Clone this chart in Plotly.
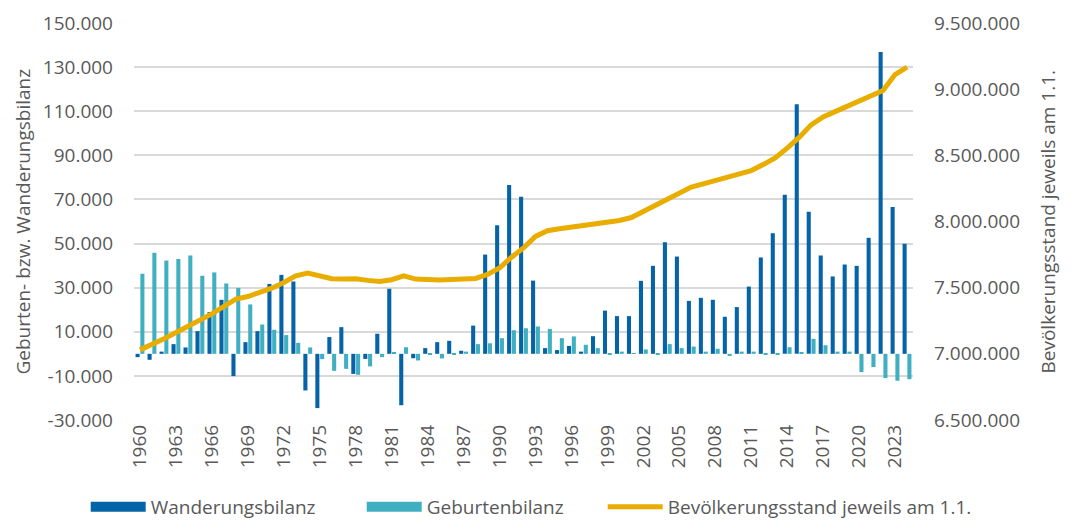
import plotly.graph_objects as go

years = list(range(1960, 2025))

wanderung_k = [-1.5, -2.7, 1.0, 4.4, 2.9, 10.3, 18.9, 24.5, -10.1, 5.3,
               10.3, 31.7, 35.8, 32.8, -16.6, -24.6, 7.6, 12.1, -9.1, -2.3,
               9.1, 29.5, -23.3, -2.0, 2.6, 5.3, 5.9, 1.4, 12.8, 45.0,
               58.3, 76.6, 71.2, 33.2, 2.6, 1.7, 3.6, 1.0, 8.0, 19.6,
               17.1, 17.1, 33.1, 39.9, 50.6, 44.1, 24.0, 25.4, 24.5, 16.8,
               21.2, 30.5, 43.7, 54.7, 72.1, 113.2, 64.4, 44.6, 35.1, 40.5,
               39.9, 52.6, 136.8, 66.6, 49.9]

geburten_k = [36.3, 45.8, 42.3, 43.0, 44.6, 35.4, 36.9, 31.9, 29.9, 22.4,
              13.3, 10.9, 8.5, 5.0, 2.9, -2.4, -7.7, -6.8, -9.5, -5.7,
              -1.5, 0.8, 3.0, -3.0, -0.3, -2.1, -0.2, 1.0, 4.4, 4.8,
              7.1, 10.7, 11.6, 12.4, 11.3, 7.1, 7.9, 4.1, 2.6, -0.2,
              1.0, 0.2, 2.0, -0.2, 4.4, 2.6, 3.3, 1.0, 2.3, -1.0,
              1.0, 1.0, -0.2, -0.3, 3.0, 0.8, 6.8, 3.9, 1.0, 1.0,
              -8.3, -6.0, -11.0, -12.2, -11.5]

bevoelkerung_m = [7.030, 7.068, 7.113, 7.161, 7.207, 7.257, 7.302, 7.358, 7.413, 7.433,
                  7.463, 7.496, 7.539, 7.589, 7.610, 7.592, 7.567, 7.565, 7.568, 7.555,
                  7.547, 7.560, 7.590, 7.565, 7.557, 7.558, 7.562, 7.565, 7.570, 7.600,
                  7.650, 7.730, 7.800, 7.887, 7.930, 7.945, 7.957, 7.970, 7.975, 7.987,
                  8.008, 8.030, 8.076, 8.113, 8.160, 8.210, 8.260, 8.285, 8.310, 8.340,
                  8.360, 8.385, 8.430, 8.480, 8.555, 8.635, 8.730, 8.790, 8.830, 8.870,
                  8.907, 8.945, 8.990, 9.110, 9.166]

left_ticks = [-30000, -10000, 10000, 30000, 50000, 70000, 90000, 110000, 130000, 150000]
left_labels = ["-30.000", "-10.000", "10.000", "30.000", "50.000", "70.000",
               "90.000", "110.000", "130.000", "150.000"]
right_ticks = [6500000, 7000000, 7500000, 8000000, 8500000, 9000000, 9500000]
right_labels = ["6.500.000", "7.000.000", "7.500.000", "8.000.000",
                "8.500.000", "9.000.000", "9.500.000"]
x_ticks = list(range(1960, 2024, 3))

wanderung = [v * 1000 for v in wanderung_k]
geburten = [v * 1000 for v in geburten_k]
bevoelkerung = [v * 1_000_000 for v in bevoelkerung_m]

FONT = "Open Sans"
GREY = "#595959"
C_W = "#0563A8"
C_G = "#40AFC2"
C_B = "#E9AD00"

fig = go.Figure()
# legend entries (wide rectangular swatches like the original)
fig.add_trace(go.Scatter(x=[None], y=[None], mode="lines", name="Wanderungsbilanz",
                         legendwidth=206, line=dict(color=C_W, width=10)))
fig.add_trace(go.Scatter(x=[None], y=[None], mode="lines", name="Geburtenbilanz",
                         legendwidth=171, line=dict(color=C_G, width=10)))
fig.add_trace(go.Bar(x=years, y=wanderung, name="Wanderungsbilanz", showlegend=False,
                     marker=dict(color=C_W, line=dict(width=0))))
fig.add_trace(go.Bar(x=years, y=geburten, name="Geburtenbilanz", showlegend=False,
                     marker=dict(color=C_G, line=dict(width=0))))
fig.add_trace(go.Scatter(x=years, y=bevoelkerung, name="Bevölkerungsstand jeweils am 1.1.",
                         mode="lines", yaxis="y2",
                         line=dict(color=C_B, width=5)))

fig.update_layout(
    width=1073, height=521,
    margin=dict(l=134, r=160, t=23, b=101, autoexpand=False),
    paper_bgcolor="white", plot_bgcolor="white",
    barmode="group", bargap=0.2, bargroupgap=0.15,
    font=dict(family=FONT, size=19, color=GREY),
    showlegend=True,
    legend=dict(orientation="h", x=-0.062, xanchor="left", y=-0.219, yanchor="middle",
                itemwidth=55, font=dict(size=19, color=GREY), traceorder="normal"),
    xaxis=dict(range=[1959.5, 2024.5], tickmode="array", tickvals=x_ticks,
               ticktext=[str(t) for t in x_ticks], tickangle=-90,
               showgrid=False, zeroline=False, showline=False,
               tickfont=dict(size=19, color=GREY)),
    yaxis=dict(range=[-30000, 150000], tickmode="array", tickvals=left_ticks,
               ticktext=left_labels, showgrid=True, gridcolor="#D9D9D9", gridwidth=1.5,
               zeroline=False, showline=False, ticklabelstandoff=20,
               tickfont=dict(size=19, color=GREY)),
    yaxis2=dict(range=[6500000, 9500000], tickmode="array", tickvals=right_ticks,
                ticktext=right_labels,
                overlaying="y", side="right", showgrid=False, zeroline=False,
                showline=False, ticklabelstandoff=20,
                tickfont=dict(size=19, color=GREY)),
    annotations=[
        dict(text="Geburten- bzw. Wanderungsbilanz", textangle=-90,
             xref="paper", yref="paper", x=(22 - 134) / 779, y=0.5,
             xanchor="center", yanchor="middle", showarrow=False,
             font=dict(size=19, color=GREY)),
        dict(text="Bevölkerungsstand jeweils am 1.1.", textangle=-90,
             xref="paper", yref="paper", x=(1047 - 134) / 779, y=0.5,
             xanchor="center", yanchor="middle", showarrow=False,
             font=dict(size=19, color=GREY)),
    ],
)

fig.write_html("out.html", config={"displayModeBar": False},
               post_script="document.body.style.margin='0';document.body.style.padding='0';")
